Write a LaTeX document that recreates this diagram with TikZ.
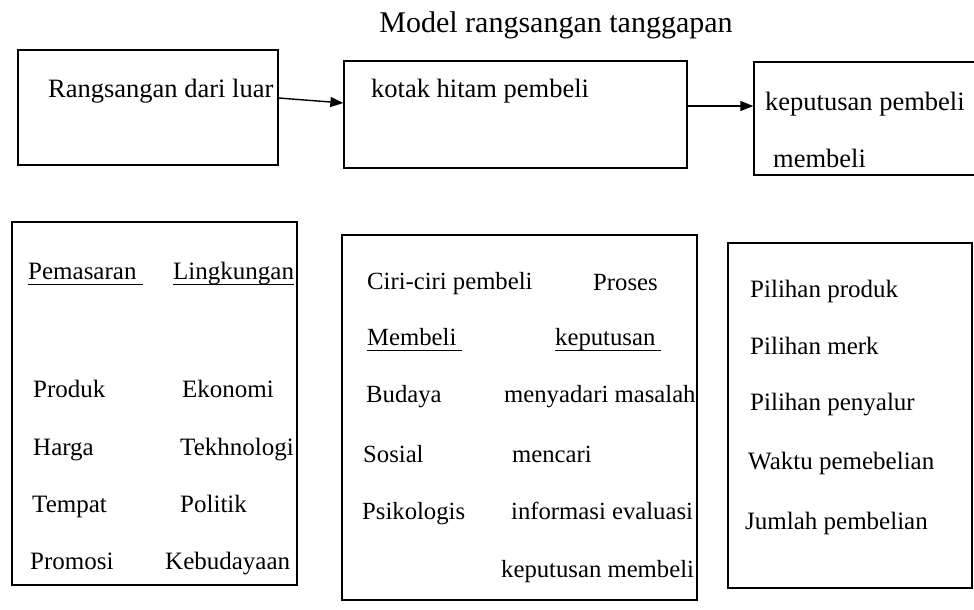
\documentclass[tikz,border=0pt]{standalone}
\usepackage{fontspec}
\setmainfont{Liberation Serif}
\usetikzlibrary{arrows.meta}
\begin{document}
\begin{tikzpicture}[x=1pt,y=-1pt,
  box/.style={draw, line width=1.3pt, inner sep=0pt},
  txt/.style={anchor=base west, inner sep=0pt, font=\fontsize{26.5}{32}\selectfont},
  txtb/.style={anchor=base west, inner sep=0pt, font=\fontsize{25}{30}\selectfont},
  txtc/.style={anchor=base west, inner sep=0pt, font=\fontsize{24.7}{30}\selectfont},
  ttl/.style={anchor=base, inner sep=0pt, font=\fontsize{30}{36}\selectfont},
  arr/.style={line width=1.4pt, -{Triangle[length=13pt,width=10pt]}},
  ul/.style={line width=1pt}]
\useasboundingbox (0,0) rectangle (974,610);
\clip (0,0) rectangle (974,610);
% title
\node[ttl] (title) at (556,33) {Model rangsangan tanggapan};
% top boxes
\node[box, minimum width=260pt, minimum height=115pt] (b1) at (148,107.5) {};
\node[box, minimum width=343pt, minimum height=107pt] (b2) at (515.5,114.5) {};
\node[box, minimum width=240pt, minimum height=113pt] (b3) at (874,118.5) {};
\node[txt] (t1) at (48,97) {Rangsangan dari luar};
\node[txt] (t2) at (371,97) {kotak hitam pembeli};
\node[txt] (t3) at (765,110) {keputusan pembeli};
\node[txt] (t4) at (773,167) {membeli};
\draw[arr] (b1.east |- 0,98) -- (b2.west |- 0,103);
\draw[arr] (b2.east |- 0,106) -- (b3.west |- 0,106);
% bottom boxes
\node[box, minimum width=285pt, minimum height=363pt] (b4) at (154.5,403.5) {};
\node[box, minimum width=355pt, minimum height=365pt] (b5) at (519.5,417.5) {};
\node[box, minimum width=244pt, minimum height=345pt] (b6) at (850,415.5) {};
% box 4
\node[txtb] (pem) at (28,279) {Pemasaran};
\node[txtb] (lin) at (173,279) {Lingkungan};
\draw[ul] ([yshift=-5pt]pem.base west) -- ([xshift=6pt,yshift=-5pt]pem.base east);
\draw[ul] ([yshift=-5pt]lin.base west) -- ([yshift=-5pt]lin.base east);
\node[txtb] (c1) at (33,397) {Produk};
\node[txtb] (c2) at (182,397) {Ekonomi};
\node[txtb] (c3) at (33,455) {Harga};
\node[txtb] (c4) at (180,455) {Tekhnologi};
\node[txtb] (c5) at (32,512) {Tempat};
\node[txtb] (c6) at (180,512) {Politik};
\node[txtb] (c7) at (30,569) {Promosi};
\node[txtb] (c8) at (165,569) {Kebudayaan};
% box 5
\node[txtc] (d1) at (367,289) {Ciri-ciri pembeli};
\node[txtc] (d2) at (593,290) {Proses};
\node[txtc] (mem) at (367,345) {Membeli};
\node[txtc] (kep) at (555,345) {keputusan};
\draw[ul] ([yshift=-5pt]mem.base west) -- ([xshift=5pt,yshift=-5pt]mem.base east);
\draw[ul] ([yshift=-5pt]kep.base west) -- ([xshift=5pt,yshift=-5pt]kep.base east);
\node[txtc] (d3) at (366,402) {Budaya};
\node[txtc] (d4) at (504,402) {menyadari masalah};
\node[txtc] (d5) at (363,462) {Sosial};
\node[txtc] (d6) at (512,462) {mencari};
\node[txtc] (d7) at (362,519) {Psikologis};
\node[txtc] (d8) at (511,519) {informasi evaluasi};
\node[txtc] (d9) at (501,577) {keputusan membeli};
% box 6
\node[txtb] (e1) at (750,297) {Pilihan produk};
\node[txtb] (e2) at (750,354) {Pilihan merk};
\node[txtb] (e3) at (750,410) {Pilihan penyalur};
\node[txtb] (e4) at (748,469) {Waktu pemebelian};
\node[txtb] (e5) at (745,529) {Jumlah pembelian};
\end{tikzpicture}
\end{document}
